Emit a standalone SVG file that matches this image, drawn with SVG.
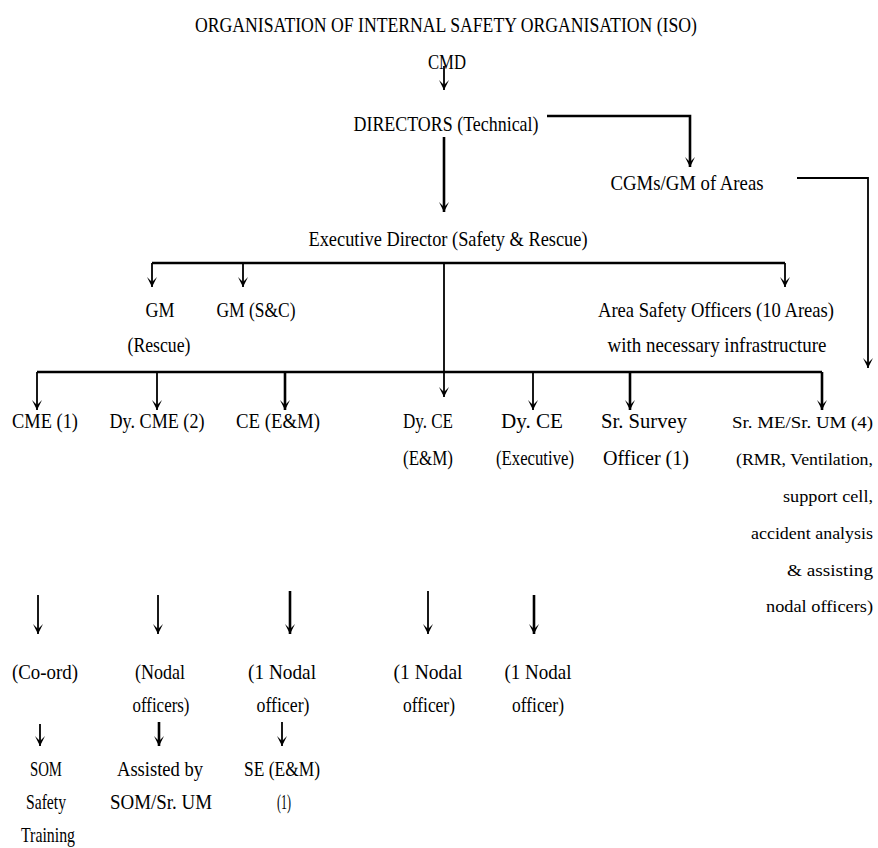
<svg xmlns="http://www.w3.org/2000/svg" width="878" height="848" viewBox="0 0 878 848">
<style>
text{font-family:"Liberation Serif","Times New Roman",serif;font-size:22px;fill:#000;text-anchor:middle}
.s{text-anchor:start;font-size:17.5px}
.c path{fill:none;stroke:#000;stroke-width:1.8}
.c .t{stroke-width:2.6}
</style>
<defs>
<marker id="ah" markerUnits="userSpaceOnUse" markerWidth="12" markerHeight="12" refX="5" refY="11" orient="0" overflow="visible">
<path d="M0,1 L5,11 L10,1 L5,6 Z" fill="#000"/>
</marker>
</defs>
<rect width="878" height="848" fill="#fff"/>
<g id="title"><text x="446" y="32" textLength="502" lengthAdjust="spacingAndGlyphs">ORGANISATION OF INTERNAL SAFETY ORGANISATION (ISO)</text></g>
<g id="cmd"><text x="447" y="69" textLength="38" lengthAdjust="spacingAndGlyphs">CMD</text></g>
<g id="directors"><text x="446" y="131" textLength="185" lengthAdjust="spacingAndGlyphs">DIRECTORS (Technical)</text></g>
<g id="cgms"><text x="687" y="190" textLength="153" lengthAdjust="spacingAndGlyphs">CGMs/GM of Areas</text></g>
<g id="ed"><text x="448" y="246" textLength="279" lengthAdjust="spacingAndGlyphs">Executive Director (Safety &amp; Rescue)</text></g>
<g id="gm-rescue"><text x="160" y="317" textLength="29" lengthAdjust="spacingAndGlyphs">GM</text><text x="159" y="352" textLength="63" lengthAdjust="spacingAndGlyphs">(Rescue)</text></g>
<g id="gm-sc"><text x="256" y="317" textLength="79" lengthAdjust="spacingAndGlyphs">GM (S&amp;C)</text></g>
<g id="aso"><text x="716" y="317" textLength="236" lengthAdjust="spacingAndGlyphs">Area Safety Officers (10 Areas)</text><text x="717" y="352" textLength="219" lengthAdjust="spacingAndGlyphs">with necessary infrastructure</text></g>
<g id="cme"><text x="45" y="428" textLength="66" lengthAdjust="spacingAndGlyphs">CME (1)</text></g>
<g id="dycme"><text x="157" y="428" textLength="95" lengthAdjust="spacingAndGlyphs">Dy. CME (2)</text></g>
<g id="ce"><text x="278" y="428" textLength="84" lengthAdjust="spacingAndGlyphs">CE (E&amp;M)</text></g>
<g id="dyce-em"><text x="428" y="428" textLength="50" lengthAdjust="spacingAndGlyphs">Dy. CE</text><text x="428" y="465" textLength="50" lengthAdjust="spacingAndGlyphs">(E&amp;M)</text></g>
<g id="dyce-exec"><text x="532" y="428" textLength="62" lengthAdjust="spacingAndGlyphs">Dy. CE</text><text x="535" y="465" textLength="78" lengthAdjust="spacingAndGlyphs">(Executive)</text></g>
<g id="survey"><text x="644" y="428" textLength="86" lengthAdjust="spacingAndGlyphs">Sr. Survey</text><text x="646" y="465" textLength="86" lengthAdjust="spacingAndGlyphs">Officer (1)</text></g>
<g id="srme"><text class="s" x="732" y="428" textLength="141" lengthAdjust="spacingAndGlyphs">Sr. ME/Sr. UM (4)</text><text class="s" x="736" y="465" textLength="137" lengthAdjust="spacingAndGlyphs">(RMR, Ventilation,</text><text class="s" x="783" y="502" textLength="90" lengthAdjust="spacingAndGlyphs">support cell,</text><text class="s" x="751" y="539" textLength="122" lengthAdjust="spacingAndGlyphs">accident analysis</text><text class="s" x="787" y="576" textLength="86" lengthAdjust="spacingAndGlyphs">&amp; assisting</text><text class="s" x="766" y="612" textLength="107" lengthAdjust="spacingAndGlyphs">nodal officers)</text></g>
<g id="coord"><text x="45" y="679" textLength="66" lengthAdjust="spacingAndGlyphs">(Co-ord)</text></g>
<g id="nodal1"><text x="160" y="679" textLength="50" lengthAdjust="spacingAndGlyphs">(Nodal</text><text x="161" y="712" textLength="57" lengthAdjust="spacingAndGlyphs">officers)</text></g>
<g id="nodal2"><text x="282" y="679" textLength="68" lengthAdjust="spacingAndGlyphs">(1 Nodal</text><text x="283" y="712" textLength="53" lengthAdjust="spacingAndGlyphs">officer)</text></g>
<g id="nodal3"><text x="428" y="679" textLength="69" lengthAdjust="spacingAndGlyphs">(1 Nodal</text><text x="429" y="712" textLength="52" lengthAdjust="spacingAndGlyphs">officer)</text></g>
<g id="nodal4"><text x="538" y="679" textLength="67" lengthAdjust="spacingAndGlyphs">(1 Nodal</text><text x="538" y="712" textLength="52" lengthAdjust="spacingAndGlyphs">officer)</text></g>
<g id="som"><text x="46" y="776" textLength="32" lengthAdjust="spacingAndGlyphs">SOM</text><text x="46" y="809" textLength="40" lengthAdjust="spacingAndGlyphs">Safety</text><text x="48" y="842" textLength="54" lengthAdjust="spacingAndGlyphs">Training</text></g>
<g id="assisted"><text x="160" y="776" textLength="86" lengthAdjust="spacingAndGlyphs">Assisted by</text><text x="161" y="809" textLength="102" lengthAdjust="spacingAndGlyphs">SOM/Sr. UM</text></g>
<g id="se"><text x="282" y="776" textLength="76" lengthAdjust="spacingAndGlyphs">SE (E&amp;M)</text><text x="284" y="809" textLength="14" lengthAdjust="spacingAndGlyphs">(1)</text></g>
<g id="connectors" class="c">
<path d="M444,66 V90" marker-end="url(#ah)"/>
<path class="t" d="M547,116 H690 V167" marker-end="url(#ah)"/>
<path class="t" d="M444,137 V212" marker-end="url(#ah)"/>
<path d="M797,178 H868 V368" marker-end="url(#ah)"/>
<path class="t" d="M152,263 H785"/>
<path d="M152,263 V287" marker-end="url(#ah)"/>
<path d="M243,263 V287" marker-end="url(#ah)"/>
<path d="M785,263 V287" marker-end="url(#ah)"/>
<path d="M444,263 V397" marker-end="url(#ah)"/>
<path class="t" d="M37,372 H822"/>
<path d="M37,372 V410" marker-end="url(#ah)"/>
<path d="M157,372 V410" marker-end="url(#ah)"/>
<path class="t" d="M285,372 V410" marker-end="url(#ah)"/>
<path d="M533,372 V410" marker-end="url(#ah)"/>
<path class="t" d="M630,372 V410" marker-end="url(#ah)"/>
<path class="t" d="M822,372 V410" marker-end="url(#ah)"/>
<path d="M38,595 V634" marker-end="url(#ah)"/>
<path d="M158,595 V634" marker-end="url(#ah)"/>
<path class="t" d="M290,591 V634" marker-end="url(#ah)"/>
<path d="M428,591 V634" marker-end="url(#ah)"/>
<path class="t" d="M534,595 V634" marker-end="url(#ah)"/>
<path d="M40,724 V746" marker-end="url(#ah)"/>
<path class="t" d="M159,722 V746" marker-end="url(#ah)"/>
<path d="M282,722 V746" marker-end="url(#ah)"/>
</g>
</svg>
